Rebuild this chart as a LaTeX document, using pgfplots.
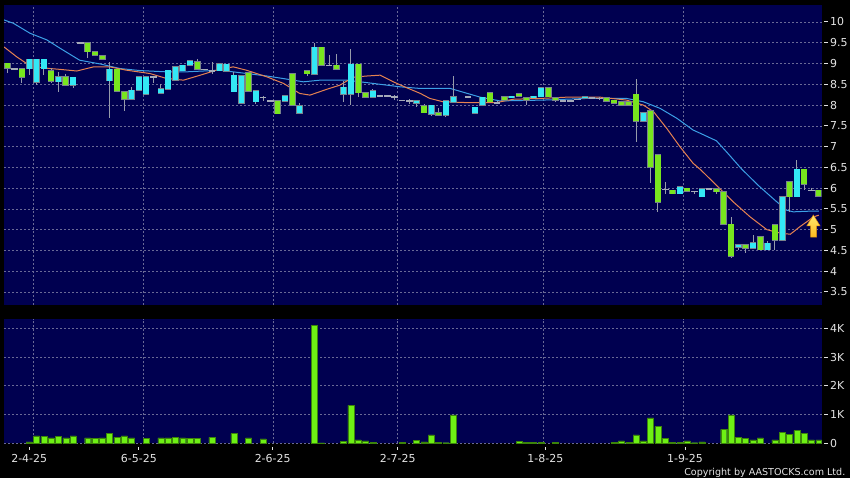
\documentclass[border=0pt]{standalone}
\usepackage{pgfplots}
\pgfplotsset{compat=1.18}
\usepackage{pgfplotstable}
\usepackage{fontspec}
\setmainfont{DejaVu Sans}
\definecolor{panel}{RGB}{0,0,80}
\definecolor{gridc}{RGB}{105,105,150}
\definecolor{upc}{RGB}{51,232,245}
\definecolor{downc}{RGB}{120,230,30}
\definecolor{edgec}{RGB}{120,130,140}
\definecolor{wickc}{RGB}{150,155,170}
\definecolor{dojic}{RGB}{165,170,185}
\definecolor{maBlue}{RGB}{60,160,230}
\definecolor{maOrange}{RGB}{230,130,80}
\definecolor{volc}{RGB}{110,240,20}
\definecolor{labc}{RGB}{228,228,228}
\definecolor{arrTop}{RGB}{255,235,110}
\definecolor{arrBot}{RGB}{255,185,30}
\definecolor{arrEdge}{RGB}{220,140,20}
\newcommand{\dashr}{\rule[3.6bp]{3.5bp}{0.9bp}\hspace{2.5bp}}
\newcommand{\xl}[1]{\shortstack{\rule{0.8bp}{3bp}\\[2bp]#1}}

\pgfplotstableread{
i o h l c
3 8.88 9.10 8.72 9.10
4 8.55 9.10 8.48 9.10
5 8.88 9.10 8.72 9.10
7 8.56 8.80 8.32 8.68
9 8.48 8.67 8.41 8.67
14 8.59 9.04 7.69 8.86
17 8.14 8.43 8.14 8.36
18 8.36 8.68 8.36 8.68
19 8.26 8.68 8.26 8.68
21 8.28 8.50 8.28 8.39
22 8.38 8.84 8.38 8.84
23 8.60 8.92 8.60 8.92
24 8.83 8.96 8.83 8.96
25 8.96 9.06 8.96 9.06
29 8.83 9.00 8.83 9.00
30 8.82 8.98 8.82 8.98
31 8.32 8.80 8.32 8.72
32 8.04 8.70 8.04 8.70
34 8.08 8.34 8.03 8.34
38 8.10 8.23 8.10 8.23
40 7.80 8.06 7.80 7.98
42 8.75 9.49 8.75 9.39
46 8.26 8.57 8.08 8.43
47 8.26 9.34 8.00 8.98
50 8.19 8.38 8.19 8.34
56 8.04 8.10 7.95 8.10
58 7.78 8.00 7.74 8.00
60 7.76 8.10 7.72 8.10
61 8.07 8.70 8.07 8.20
64 7.80 7.95 7.80 7.95
65 8.00 8.19 8.00 8.19
69 8.18 8.21 8.18 8.21
72 8.18 8.21 8.18 8.21
73 8.20 8.42 8.20 8.42
79 8.17 8.20 8.17 8.20
87 7.61 7.82 7.61 7.82
92 5.87 6.06 5.87 6.03
95 5.79 5.99 5.79 5.99
100 4.58 4.63 4.52 4.63
102 4.55 4.87 4.55 4.69
104 4.52 4.72 4.52 4.67
106 4.75 5.79 4.75 5.79
108 5.79 6.67 5.79 6.45
}\upT

\pgfplotstableread{
i o h l c
0 9.01 9.01 8.78 8.89
2 8.88 8.88 8.54 8.67
6 8.82 8.89 8.53 8.58
8 8.68 8.76 8.48 8.48
11 9.50 9.50 9.13 9.28
12 9.28 9.28 9.20 9.20
13 9.19 9.19 9.10 9.10
15 8.86 8.86 8.34 8.34
16 8.32 8.32 7.86 8.14
26 9.04 9.12 8.86 8.86
33 8.78 8.78 8.34 8.34
37 8.10 8.10 7.79 7.79
39 8.76 8.76 8.00 8.00
41 8.82 8.82 8.70 8.76
43 9.39 9.39 8.96 8.96
45 8.96 9.24 8.87 8.87
48 8.98 8.98 8.20 8.30
49 8.30 8.30 8.19 8.19
57 7.98 8.03 7.82 7.82
59 7.81 7.92 7.76 7.76
66 8.30 8.30 8.08 8.08
68 8.20 8.20 8.12 8.12
70 8.27 8.27 8.22 8.22
71 8.18 8.18 8.00 8.12
74 8.42 8.42 8.20 8.20
75 8.18 8.18 8.08 8.12
82 8.18 8.18 8.10 8.10
83 8.12 8.12 8.04 8.04
84 8.08 8.08 8.00 8.00
85 8.08 8.08 8.00 8.00
86 8.26 8.63 7.12 7.61
88 7.86 7.86 6.12 6.51
89 6.81 6.81 5.42 5.66
91 5.95 5.95 5.87 5.87
93 6.00 6.00 5.93 5.93
97 5.99 5.99 5.85 5.91
98 5.91 5.91 5.13 5.13
99 5.13 5.31 4.31 4.36
101 4.63 4.63 4.45 4.55
103 4.83 4.83 4.50 4.52
105 5.12 5.12 4.51 4.75
107 6.15 6.15 5.43 5.79
109 6.45 6.45 5.95 6.10
111 5.95 5.95 5.81 5.81
}\downT

\pgfplotstableread{
i o h l c
1 8.88 8.88 8.88 8.88
10 9.50 9.50 9.50 9.50
20 8.68 8.68 8.53 8.68
27 8.86 8.86 8.86 8.86
28 8.83 9.04 8.76 8.83
35 8.19 8.23 8.10 8.19
36 8.10 8.10 8.10 8.10
44 8.96 9.20 8.96 8.96
51 8.23 8.23 8.23 8.23
52 8.23 8.23 8.23 8.23
53 8.20 8.24 8.12 8.20
54 8.12 8.12 8.12 8.12
55 8.10 8.14 8.02 8.10
63 8.20 8.20 8.20 8.20
67 8.06 8.09 8.02 8.06
76 8.10 8.10 8.10 8.10
77 8.11 8.11 8.11 8.11
78 8.14 8.14 8.14 8.14
80 8.18 8.18 8.18 8.18
81 8.16 8.20 8.12 8.16
90 5.97 6.15 5.85 5.97
94 5.92 5.92 5.85 5.92
96 5.99 5.99 5.99 5.99
110 5.95 6.00 5.92 5.95
}\dojiT

\pgfplotstableread{
i v
3 50
4 255
5 232
6 185
7 243
8 185
9 255
11 185
12 174
13 185
14 348
15 209
16 255
17 185
19 174
21 185
22 185
23 197
24 185
25 174
26 174
28 209
31 336
33 185
35 150
42 4104
43 15
46 70
47 1322
48 116
49 81
50 35
54 25
56 93
57 46
58 290
59 35
60 20
61 986
70 58
71 35
72 35
73 25
75 25
83 35
84 81
85 35
86 290
87 81
88 881
89 580
90 174
91 35
92 35
93 81
94 20
95 46
98 487
99 986
100 209
101 162
102 116
103 185
105 116
106 371
107 301
108 441
109 348
110 116
111 116
}\volT

\pgfplotsset{
  wick/.style={draw=none, mark=none, forget plot,
    error bars/.cd, y dir=both, y explicit, error mark=none,
    error bar style={draw=wickc, line width=0.9bp, solid}},
  body/.style={draw=none, mark=none, forget plot,
    error bars/.cd, y dir=both, y explicit, error mark=none,
    error bar style={draw=#1, line width=5.4bp, solid}},
  bodyedge/.style={draw=none, mark=none, forget plot,
    error bars/.cd, y dir=both, y explicit, error mark=none,
    error bar style={draw=#1, line width=6.6bp, solid}},
  panelstyle/.style={
    scale only axis, width=817.7bp,
    xmin=-0.45, xmax=111.4,
    axis background/.style={fill=panel},
    axis line style={draw=none},
    major tick length=0pt,
    xtick={3.5,18.6,36.4,53.4,73.3,92.4}, xticklabels={},
    xmajorgrids, ymajorgrids,
    grid style={gridc, line width=0.6bp, dash pattern=on 2bp off 2bp},
    yticklabel pos=right,
    tick label style={font=\fontsize{11}{13}\selectfont, text=labc},
    yticklabel style={anchor=west, inner sep=0pt, xshift=2.3bp},
    /pgf/number format/assume math mode=true,
  }
}

\begin{document}
\begin{tikzpicture}
\fill[black] (0,0) rectangle (850bp,-478bp);

\begin{axis}[panelstyle,
  at={(4bp,-5.3bp)}, anchor=north west, height=299.7bp,
  ymin=3.187, ymax=10.402,
  ytick={3.5,4,4.5,5,5.5,6,6.5,7,7.5,8,8.5,9,9.5,10},
  yticklabel={\dashr\pgfmathprintnumber{\tick}},
]
% moving averages
\addplot[maBlue, line width=1bp, forget plot] coordinates {
(-0.45,10.05) (0.82,9.97) (3.1,9.73) (5.4,9.57) (7.2,9.37) (9.9,9.08) (12.7,8.99)
(15.4,8.88) (18.2,8.83) (21.8,8.80) (24.5,8.80) (29.1,8.84) (30.9,8.80) (35.5,8.70)
(37.7,8.64) (40.5,8.56) (42.8,8.60) (46.4,8.60) (49.2,8.54) (51.9,8.48) (53.7,8.44)
(56.5,8.40) (60.6,8.40) (64.7,8.19) (67.4,8.10) (73.3,8.12) (79.3,8.16) (84.7,8.16)
(87.0,8.08) (89.3,7.92) (91.6,7.68) (93.8,7.40) (94.8,7.32) (97.0,7.14) (98.4,6.87)
(100.4,6.47) (102.7,6.07) (105.0,5.71) (106.6,5.47) (107.5,5.43) (110.3,5.45) (111,5.45)};
\addplot[maOrange, line width=1bp, forget plot] coordinates {
(-0.45,9.40) (1.3,9.16) (2.65,9.00) (4.0,8.92) (5.8,8.88) (7.2,8.86) (9.5,8.82)
(11.8,8.92) (14.0,8.92) (16.3,8.84) (19.5,8.76) (21.8,8.64) (24.1,8.60) (26.4,8.72)
(28.6,8.84) (30.9,8.92) (32.7,8.84) (35.5,8.68) (37.8,8.52) (40.0,8.28) (41.4,8.24)
(43.7,8.38) (45.5,8.48) (47.3,8.67) (49.2,8.70) (51.0,8.72) (52.8,8.56) (54.6,8.42)
(56.5,8.28) (57.8,8.16) (59.6,8.08) (62.8,8.06) (66.9,8.06) (69.2,8.14) (72.9,8.16)
(76.5,8.19) (81.1,8.19) (84.7,8.12) (87.0,8.00) (88.4,7.84) (90.2,7.44) (92.0,7.00)
(93.8,6.60) (94.8,6.45) (97.0,6.07) (99.3,5.67) (101.6,5.31) (103.9,5.00) (105.7,4.92)
(107.1,4.89) (108.4,5.07) (110.3,5.31) (111,5.35)};
% wicks
\addplot[wick] table[x=i, y expr={(\thisrow{h}+\thisrow{l})/2}, y error expr={(\thisrow{h}-\thisrow{l})/2}] {\dojiT};
\addplot[wick] table[x=i, y expr={(\thisrow{h}+\thisrow{l})/2}, y error expr={(\thisrow{h}-\thisrow{l})/2}] {\upT};
\addplot[wick] table[x=i, y expr={(\thisrow{h}+\thisrow{l})/2}, y error expr={(\thisrow{h}-\thisrow{l})/2}] {\downT};
% doji bars
\addplot[bodyedge=dojic] table[x=i, y=c, y error expr={0.013}] {\dojiT};
% bodies
\addplot[bodyedge=edgec] table[x=i, y expr={(\thisrow{o}+\thisrow{c})/2}, y error expr={abs(\thisrow{c}-\thisrow{o})/2+0.014}] {\upT};
\addplot[body=upc] table[x=i, y expr={(\thisrow{o}+\thisrow{c})/2}, y error expr={abs(\thisrow{c}-\thisrow{o})/2}] {\upT};
\addplot[bodyedge=edgec] table[x=i, y expr={(\thisrow{o}+\thisrow{c})/2}, y error expr={abs(\thisrow{c}-\thisrow{o})/2+0.014}] {\downT};
\addplot[body=downc] table[x=i, y expr={(\thisrow{o}+\thisrow{c})/2}, y error expr={abs(\thisrow{c}-\thisrow{o})/2}] {\downT};
% arrow marker
\filldraw[draw=arrEdge, line width=0.5bp, top color=arrTop, bottom color=arrBot]
  (axis cs:109.36,5.09) -- (axis cs:110.26,5.354) -- (axis cs:111.18,5.09) -- (axis cs:110.70,5.09)
  -- (axis cs:110.70,4.82) -- (axis cs:109.88,4.82) -- (axis cs:109.88,5.09) -- cycle;
\end{axis}

\begin{axis}[panelstyle,
  at={(4bp,-319bp)}, anchor=north west, height=124.3bp,
  ymin=0, ymax=4323,
  ytick={0,1000,2000,3000,4000},
  yticklabels={{\dashr 0},{\dashr 1K},{\dashr 2K},{\dashr 3K},{\dashr 4K}},
  scaled y ticks=false,
  extra x ticks={3,18,36.3,53.4,73.6,92.7},
  extra x tick labels={{\xl{2-4-25}},{\xl{6-5-25}},{\xl{2-6-25}},{\xl{2-7-25}},{\xl{1-8-25}},{\xl{1-9-25}}},
  extra x tick style={grid=none},
  xticklabel style={anchor=north, inner sep=0pt, yshift=-3.2bp},
]
\addplot[ybar, bar width=6bp, fill=volc, draw=volc!55!black, line width=0.4bp] table[x=i, y=v] {\volT};
\end{axis}

\node[anchor=base east, inner sep=0pt, text=labc, font=\fontsize{9.6}{11}\selectfont] at (845.5bp,-475.5bp) {Copyright by AASTOCKS.com Ltd.};
\pgfresetboundingbox
\useasboundingbox (0,0) rectangle (850bp,-478bp);
\end{tikzpicture}
\end{document}
